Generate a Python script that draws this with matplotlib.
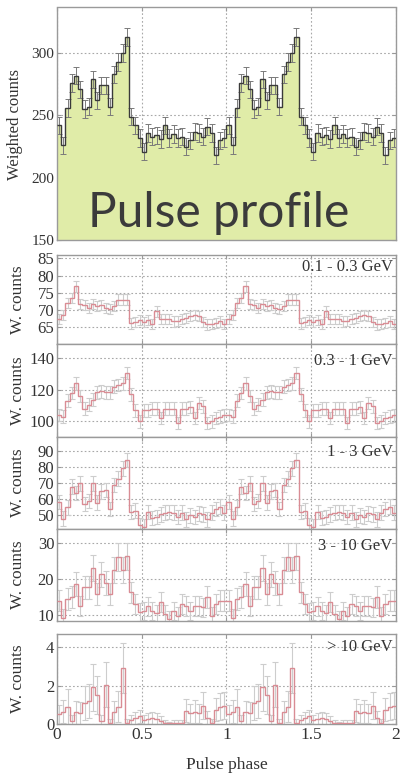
import numpy as np
import matplotlib
matplotlib.use("Agg")
import matplotlib.pyplot as plt

# ---------------- data (one rotation, 40 phase bins; shown twice) ----------------
n_bins = 40
total = [242, 226, 256, 276, 282, 271, 255, 257, 279, 262,
         274, 274, 257, 283, 293, 300, 313, 249, 242, 232,
         221, 236, 233, 234, 231, 242, 232, 235, 232, 233,
         225, 230, 237, 236, 233, 241, 236, 218, 230, 232]
total_err = 7

e1 = [67.4, 68.4, 72.0, 73.4, 76.8, 71.7, 71.5, 70.5, 71.7, 71.0,
      71.5, 70.5, 70.2, 71.0, 73.0, 73.0, 73.0, 66.0, 66.5, 67.1,
      66.5, 67.0, 65.9, 69.5, 67.4, 67.4, 67.4, 66.6, 66.8, 67.4,
      67.6, 68.1, 68.4, 68.1, 66.5, 65.7, 65.9, 66.2, 66.6, 65.8]
e1_err = 1.5

e2 = [104, 103, 113, 118, 124, 116, 108, 110.5, 113.7, 118.3,
      119, 118.3, 118.3, 122, 123, 124, 130.5, 117, 107, 100,
      107, 107, 108, 108, 102, 108, 108, 108, 99, 108,
      108, 109, 102, 111.6, 109.5, 99, 100, 102, 103, 103.8]
e2_err = 4

e3 = [58.5, 48, 55, 68, 64, 70, 57, 59, 70, 58,
      65, 66, 54, 69, 73, 79.4, 84.7, 52, 53, 44,
      43, 52, 48.5, 49, 50.6, 51.7, 52, 51.7, 49, 51.7,
      47.5, 50, 49, 51.3, 50.6, 47.5, 51.7, 54, 55.5, 51.7]
e3_err = 4.5

e4 = [14, 9.2, 14.4, 15, 18.7, 12.5, 17.7, 17.7, 23, 15.8,
      21.3, 19, 15.8, 22.6, 26.2, 22.5, 26.4, 16.3, 13, 10.7,
      11.1, 12.4, 11.1, 10.4, 13.5, 10.2, 8.8, 11.1, 9.7, 13,
      12.5, 11.1, 12.5, 12.5, 12.1, 15, 9.7, 13, 14, 14]
e4_err = [3.0, 2.5, 3.0, 3.0, 3.3, 2.8, 3.3, 3.3, 3.6, 3.0,
          3.5, 3.3, 3.0, 3.6, 3.8, 3.6, 3.8, 3.0, 2.8, 2.5,
          2.5, 2.7, 2.5, 2.5, 2.8, 2.5, 2.3, 2.5, 2.4, 2.8,
          2.7, 2.5, 2.7, 2.7, 2.7, 3.0, 2.4, 2.8, 2.9, 2.9]

e5 = [0.5, 0.65, 0.9, 0.15, 0.6, 0.55, 1.1, 1.2, 1.9, 1.5,
      0.15, 2.05, 0.05, 0.6, 0.9, 2.9, 0.05, 0.2, 0.3, 0.4,
      0.2, 0.25, 0.3, 0.25, 0.15, 0.05, 0.03, 0.05, 0.05, 0.05,
      0.7, 0.55, 0.65, 0.55, 0.95, 0.3, 0.05, 0.75, 0.9, 0.95]
e5_err = [0.5, 0.6, 0.9, 0.3, 0.6, 0.6, 0.9, 0.9, 1.2, 1.0,
          0.3, 1.15, 0.2, 0.6, 0.8, 1.3, 0.2, 0.25, 0.3, 0.35,
          0.25, 0.3, 0.3, 0.3, 0.25, 0.15, 0.1, 0.15, 0.15, 0.15,
          0.6, 0.5, 0.6, 0.5, 0.7, 0.4, 0.2, 0.6, 0.7, 0.7]

band_labels = ["0.1 - 0.3 GeV", "0.3 - 1 GeV", "1 - 3 GeV", "3 - 10 GeV", "> 10 GeV"]
band_values = [e1, e2, e3, e4, e5]
band_errors = [e1_err, e2_err, e3_err, e4_err, e5_err]
band_ylims = [(60, 86), (90, 149), (41.5, 99), (8.3, 34), (0, 4.68)]
band_yticks = [[65, 70, 75, 80, 85], [100, 120, 140], [50, 60, 70, 80, 90], [10, 20, 30], [0, 2, 4]]
band_label_y = [0.87, 0.82, 0.84, 0.82, 0.86]

xticks = [0, 0.5, 1, 1.5, 2]
xticklabels = ["0", "0.5", "1", "1.5", "2"]

# ---------------- figure ----------------
W, H = 406, 776
fig = plt.figure(figsize=(W / 100, H / 100), dpi=100)
serif = ["Liberation Serif", "DejaVu Serif"]

def rect(top_px, bot_px):
    return [57 / W, 1 - bot_px / H, (396 - 57) / W, (bot_px - top_px) / H]

edges = np.linspace(0, 2, 2 * n_bins + 1)
centers = 0.5 * (edges[1:] + edges[:-1])

def style(ax, ylim, yticks, tick_fs, show_x):
    ax.set_xlim(0, 2)
    ax.set_ylim(*ylim)
    ax.set_xticks(xticks)
    ax.set_yticks(yticks)
    ax.set_yticklabels([str(t) for t in yticks], family=serif, fontsize=tick_fs, color="#333333")
    if show_x:
        ax.set_xticklabels(xticklabels, family=serif, fontsize=12.5, color="#333333")
    else:
        ax.set_xticklabels([])
    ax.grid(True, linestyle=(0, (1.5, 2)), color="#a8a8a8", linewidth=0.8)
    ax.set_axisbelow(True)
    ax.tick_params(direction="in", length=3, color="#999999", top=True, right=True, pad=2)
    for s in ax.spines.values():
        s.set_color("#9a9a9a")
        s.set_linewidth(1.0)
        s.set_linestyle((0, (2, 1)))

# top panel
ax0 = fig.add_axes(rect(7, 240))
tot2 = np.tile(total, 2)
ax0.stairs(tot2, edges, baseline=150, fill=True, color="#e0eca8", zorder=1)
ax0.errorbar(centers, tot2, yerr=total_err, fmt="none", ecolor="#7a7a7a",
             elinewidth=0.7, capsize=2.2, capthick=0.7, zorder=2)
ax0.stairs(tot2, edges, baseline=None, color="#3a3a3a", linewidth=1.0, zorder=3)
style(ax0, (150, 337), [150, 200, 250, 300], 11, False)
fig.text(15 / W, 1 - 125 / H, "Weighted counts", rotation=90, ha="center", va="center",
         family=serif, fontsize=12, color="#333333")
fig.text(219 / W, 1 - 227 / H, "Pulse profile", ha="center", va="baseline",
         family=["Lato", "DejaVu Sans"], fontsize=34.5, color="#3b3b3b")

# energy band panels
tops = [255, 344, 437, 529, 634]
bots = [344, 437, 529, 621, 724]
for i in range(5):
    ax = fig.add_axes(rect(tops[i], bots[i]))
    vals = np.tile(band_values[i], 2)
    err = band_errors[i]
    err = np.tile(err, 2) if np.ndim(err) else err
    ax.errorbar(centers, vals, yerr=err, fmt="none", ecolor="#cdcdcd",
                elinewidth=0.8, capsize=2.2, capthick=0.8, zorder=2)
    ax.stairs(vals, edges, baseline=None, color="#d98c94", linewidth=1.0, zorder=3)
    style(ax, band_ylims[i], band_yticks[i], 12, i == 4)
    ax.text(0.99, band_label_y[i], band_labels[i], transform=ax.transAxes, ha="right",
            va="center", family=serif, fontsize=12, color="#333333", zorder=5)
    yc = 1 - (tops[i] + bots[i]) / 2 / H
    fig.text(18 / W, yc, "W. counts", rotation=90, ha="center", va="center",
             family=serif, fontsize=12.5, color="#333333")

fig.text(227 / W, 1 - 765 / H, "Pulse phase", ha="center", va="center",
         family=serif, fontsize=12.5, color="#333333")

fig.savefig("out.png", dpi=100, facecolor="white")
